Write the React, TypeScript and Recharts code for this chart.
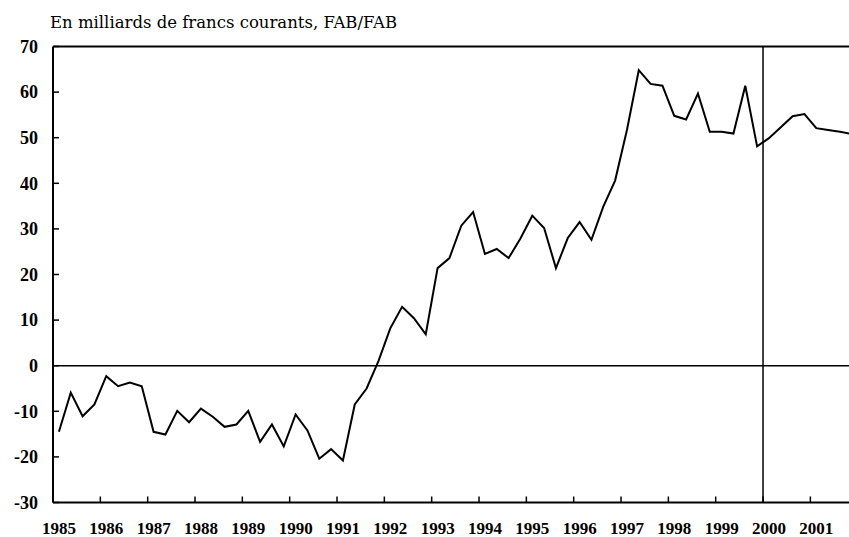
import React from 'react';
import { LineChart, Line, XAxis, YAxis, ReferenceLine } from 'recharts';

// tick labels
const years = [1985, 1986, 1987, 1988, 1989, 1990, 1991, 1992, 1993, 1994, 1995, 1996, 1997, 1998, 1999, 2000, 2001];
const yTicks = [-30, -20, -10, 0, 10, 20, 30, 40, 50, 60, 70];

// solde trimestriel, 1985 T1 -> 2001 T4 (milliards de francs)
const balance = [
  -14.5, -5.9, -11.1, -8.5,
  -2.3, -4.5, -3.7, -4.5,
  -14.5, -15.1, -9.9, -12.4,
  -9.4, -11.2, -13.4, -12.9,
  -9.9, -16.7, -12.9, -17.7,
  -10.7, -14.2, -20.4, -18.3,
  -20.8, -8.5, -5.0, 1.0,
  8.2, 12.9, 10.4, 6.9,
  21.4, 23.6, 30.7, 33.7,
  24.5, 25.6, 23.6, 27.9,
  32.9, 30.2, 21.4, 28.0,
  31.5, 27.6, 34.9, 40.6,
  51.7, 64.8, 61.8, 61.4,
  54.8, 54.0, 59.7, 51.3,
  51.3, 50.9, 61.4, 48.1,
  49.9, 52.3, 54.7, 55.2,
  52.1, 51.7, 51.3, 50.8,
];

const data = balance.map((value, i) => ({ t: years[0] + (i + 0.5) / 4, value }));

const XTick = (props: any) => {
  const { x, y, payload } = props;
  return (
    <g>
      <line x1={x} y1={y} x2={x} y2={y - 6} stroke="#000" strokeWidth={1.5} />
      <text
        x={x + 6}
        y={y + 31.5}
        textAnchor="middle"
        fontFamily="'Liberation Serif', serif"
        fontWeight="bold"
        fontSize={17}
        fill="#000"
      >
        {payload.value}
      </text>
    </g>
  );
};

const YTick = (props: any) => {
  const { x, y, payload } = props;
  return (
    <g>
      <line x1={x} y1={y} x2={x + 6} y2={y} stroke="#000" strokeWidth={1.5} />
      <text
        x={x - 15}
        y={y}
        dy="0.35em"
        textAnchor="end"
        fontFamily="'Liberation Serif', serif"
        fontWeight="bold"
        fontSize={18}
        fill="#000"
      >
        {payload.value}
      </text>
    </g>
  );
};

export default function App() {
  return (
    <div style={{ position: 'absolute', left: 0, top: 0, width: 849, height: 537, overflow: 'hidden', background: '#fff' }}>
      <div
        style={{
          position: 'absolute',
          left: 50,
          top: 14.5,
          fontFamily: "'DejaVu Serif', serif",
          fontSize: 16.5,
          lineHeight: '16px',
          whiteSpace: 'nowrap',
          color: '#000',
        }}
      >
        En milliards de francs courants, FAB/FAB
      </div>
      <LineChart width={870} height={537} data={data} margin={{ top: 46.5, right: 12.3, left: 0, bottom: 0 }}>
        <XAxis
          type="number"
          dataKey="t"
          domain={[1985, 2002]}
          ticks={years}
          interval={0}
          height={34.5}
          tickSize={0}
          tickMargin={0}
          tickLine={false}
          axisLine={{ stroke: '#000', strokeWidth: 2 }}
          tick={<XTick />}
        />
        <YAxis
          type="number"
          domain={[-30, 70]}
          ticks={yTicks}
          interval={0}
          width={53}
          tickSize={0}
          tickMargin={0}
          tickLine={false}
          axisLine={{ stroke: '#000', strokeWidth: 2 }}
          tick={<YTick />}
        />
        <ReferenceLine y={70} stroke="#000" strokeWidth={2} />
        <ReferenceLine y={0} stroke="#000" strokeWidth={1.5} />
        <ReferenceLine x={2000} stroke="#000" strokeWidth={1.5} />
        <Line type="linear" dataKey="value" stroke="#000" strokeWidth={2} dot={false} isAnimationActive={false} />
      </LineChart>
    </div>
  );
}
